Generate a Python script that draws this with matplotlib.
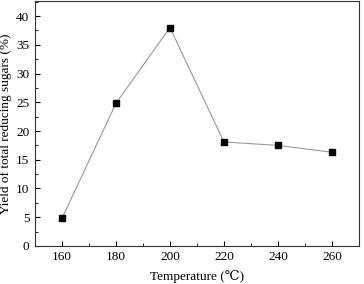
import matplotlib
matplotlib.use("Agg")
import matplotlib.pyplot as plt
from matplotlib.ticker import MultipleLocator

plt.rcParams['font.family'] = ['Liberation Serif', 'DejaVu Serif', 'DejaVu Sans']
plt.rcParams['font.size'] = 9.5

# temperature (C) vs yield of total reducing sugars (%)
temperature = [160, 180, 200, 220, 240, 260]
yield_pct = [4.8, 24.8, 38.0, 18.1, 17.5, 16.3]

fig = plt.figure(figsize=(3.64, 2.84), dpi=100)
ax = fig.add_axes([0.096, 0.134, 0.89, 0.862])

ax.plot(temperature, yield_pct, color='#999999', lw=0.8,
        marker='s', markersize=4.5, markerfacecolor='black', markeredgecolor='black')

ax.set_xlim(150, 270)
ax.set_ylim(0, 42.6)
ax.xaxis.set_major_locator(MultipleLocator(20))
ax.xaxis.set_minor_locator(MultipleLocator(10))
ax.yaxis.set_major_locator(MultipleLocator(5))
ax.yaxis.set_minor_locator(MultipleLocator(2.5))
ax.tick_params(which='both', direction='in', top=False, right=False)
ax.tick_params(which='major', length=3.5, width=0.8, pad=4)
ax.tick_params(which='minor', length=2, width=0.6)
for s in ax.spines.values():
    s.set_linewidth(0.8)
    s.set_color('#333333')

ax.set_xlabel('Temperature (℃)', labelpad=5)
ax.set_ylabel('Yield of total reducing sugars (%)', labelpad=3)

fig.savefig('out.png', dpi=100)
